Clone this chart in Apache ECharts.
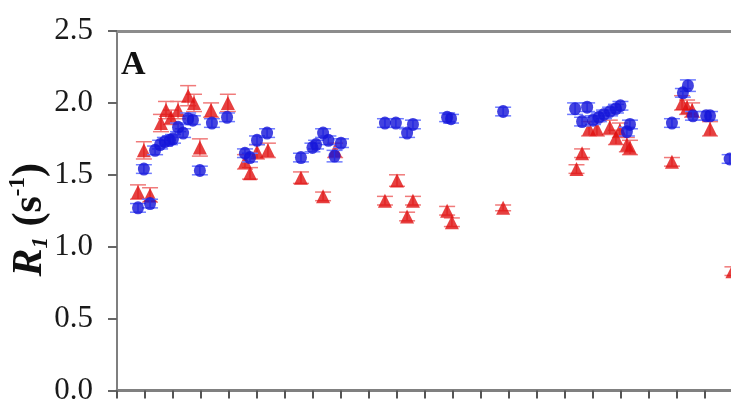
<!DOCTYPE html>
<html>
<head>
<meta charset="utf-8">
<script src="https://cdn.jsdelivr.net/npm/echarts@6/dist/echarts.min.js"></script>
<style>
  html, body { margin: 0; padding: 0; background: #ffffff; overflow: hidden; width: 731px; height: 402px; }
  /* the residue axis continues past the right edge of the page */
  #chart { width: 761px; height: 402px; }
</style>
</head>
<body>
<div id="chart"></div>
<script>
// Residue positions and longitudinal relaxation rates R1 (s^-1), two datasets.
const redResidue = [7.5, 11.8, 9.6, 15.7, 17.5, 19.3, 21.8, 25.4, 27.5, 29.6, 33.6, 39.6,
  45.7, 47.5, 50, 53.9, 65.7, 73.6, 77.9, 95.7, 100, 103.6, 105.7, 117.9, 119.6, 137.9,
  164.1, 166.1, 168.6, 171.4, 176, 178.2, 179.6, 182.1, 183.2, 198.2, 201.8, 203.6, 205.4, 211.8, 219.8];
const redR1 = [1.38, 1.36, 1.67, 1.86, 1.95, 1.90, 1.95, 2.05, 2.00, 1.69, 1.95, 2.00,
  1.59, 1.51, 1.66, 1.67, 1.48, 1.35, 1.67, 1.32, 1.46, 1.21, 1.32, 1.25, 1.17, 1.27,
  1.54, 1.65, 1.82, 1.82, 1.83, 1.76, 1.81, 1.71, 1.69, 1.59, 2.00, 1.97, 1.95, 1.82, 0.83];
const redErr = [0.05, 0.05, 0.06, 0.06, 0.06, 0.05, 0.06, 0.07, 0.06, 0.06, 0.05, 0.06,
  0.05, 0.04, 0.05, 0.05, 0.04, 0.03, 0.05, 0.03, 0.04, 0.03, 0.03, 0.03, 0.03, 0.02,
  0.03, 0.03, 0.05, 0.05, 0.05, 0.05, 0.05, 0.05, 0.05, 0.03, 0.05, 0.05, 0.05, 0.05, 0.03];

const blueResidue = [7.5, 11.8, 9.6, 13.6, 15.4, 17.1, 18.9, 20, 21.8, 23.6, 25.4, 27.1, 29.6, 33.9, 39.3,
  45.7, 47.5, 50, 53.6, 65.7, 69.8, 71.1, 73.6, 75.5, 77.7, 80, 95.7, 99.6, 103.6, 105.7,
  117.9, 119.3, 137.9, 163.6, 167.9, 166.1, 170, 172.1, 173.9, 176.1, 178.2, 179.8, 183.2, 182.1,
  198.2, 202.1, 203.9, 205.7, 210.4, 211.8, 218.8];
const blueR1 = [1.27, 1.30, 1.54, 1.67, 1.71, 1.73, 1.74, 1.75, 1.83, 1.79, 1.89, 1.88, 1.53, 1.86, 1.90,
  1.65, 1.62, 1.74, 1.79, 1.62, 1.69, 1.71, 1.79, 1.74, 1.63, 1.72, 1.86, 1.86, 1.79, 1.85,
  1.90, 1.89, 1.94, 1.96, 1.97, 1.87, 1.88, 1.90, 1.92, 1.94, 1.96, 1.98, 1.85, 1.80,
  1.86, 2.07, 2.12, 1.91, 1.91, 1.91, 1.61];
const blueErr = [0.03, 0.03, 0.03, 0.03, 0.03, 0.03, 0.03, 0.03, 0.03, 0.03, 0.04, 0.03, 0.03, 0.03, 0.03,
  0.03, 0.03, 0.03, 0.03, 0.03, 0.03, 0.03, 0.03, 0.03, 0.04, 0.03, 0.03, 0.03, 0.03, 0.03,
  0.03, 0.03, 0.03, 0.04, 0.03, 0.03, 0.03, 0.03, 0.03, 0.03, 0.03, 0.03, 0.03, 0.03,
  0.03, 0.03, 0.04, 0.03, 0.03, 0.03, 0.03];

const yTickLabels = ['0.0', '0.5', '1.0', '1.5', '2.0', '2.5'];
const panelLabel = 'A';

const points = (xs, ys) => xs.map((x, i) => [x, ys[i]]);
const bars = (xs, ys, es) => xs.map((x, i) => [x, ys[i] - es[i], ys[i] + es[i]]);

function errorBar(color) {
  return function (params, api) {
    const x = api.value(0);
    const lo = api.coord([x, api.value(1)]);
    const hi = api.coord([x, api.value(2)]);
    const hw = 8;
    const style = { stroke: color, lineWidth: 1.5 };
    return {
      type: 'group',
      children: [
        { type: 'line', shape: { x1: lo[0], y1: lo[1], x2: hi[0], y2: hi[1] }, style },
        { type: 'line', shape: { x1: lo[0] - hw, y1: lo[1], x2: lo[0] + hw, y2: lo[1] }, style },
        { type: 'line', shape: { x1: hi[0] - hw, y1: hi[1], x2: hi[0] + hw, y2: hi[1] }, style }
      ]
    };
  };
}

const serif = 'Liberation Serif';
const chart = echarts.init(document.getElementById('chart'), null, { renderer: 'canvas' });

chart.setOption({
  animation: false,
  backgroundColor: '#ffffff',
  grid: { left: 117, top: 31, bottom: 11.5, right: 0, containLabel: false, outerBoundsMode: 'none' },
  xAxis: [
    {
      type: 'value', min: 0, max: 230, interval: 10, position: 'bottom',
      axisLine: { show: true, lineStyle: { color: '#808080', width: 3 } },
      axisTick: { show: true, inside: false, length: 8, lineStyle: { color: '#555555', width: 2 } },
      axisLabel: { show: false },
      splitLine: { show: false }
    },
    {
      type: 'value', min: 0, max: 230, position: 'top',
      axisLine: { show: true, lineStyle: { color: '#8c8c8c', width: 3 } },
      axisTick: { show: false },
      axisLabel: { show: false },
      splitLine: { show: false }
    }
  ],
  yAxis: {
    type: 'value', min: 0, max: 2.5, interval: 0.5,
    axisLine: { show: true, lineStyle: { color: '#7f7f7f', width: 2 } },
    axisTick: { show: true, inside: false, length: 9, lineStyle: { color: '#666666', width: 2 } },
    axisLabel: {
      formatter: (v) => yTickLabels[Math.round(v / 0.5)],
      fontFamily: serif, fontSize: 31, color: '#1a1a1a', margin: 24
    },
    splitLine: { show: false },
    name: '{r|R}{sub|1}{b| (s}{sup|-1}{b|)}{g|}',
    nameLocation: 'middle',
    nameRotate: 90,
    nameGap: 64,
    nameMoveOverlap: false,
    nameTextStyle: {
      fontFamily: serif,
      rich: {
        r: { fontFamily: serif, fontSize: 42, fontWeight: 'bold', fontStyle: 'italic', color: '#111', lineHeight: 46, verticalAlign: 'middle' },
        sub: { fontFamily: serif, fontSize: 23, fontWeight: 'bold', fontStyle: 'italic', color: '#111', lineHeight: 23, verticalAlign: 'bottom' },
        b: { fontFamily: serif, fontSize: 42, fontWeight: 'bold', color: '#111', lineHeight: 46, verticalAlign: 'middle' },
        sup: { fontFamily: serif, fontSize: 23, fontWeight: 'bold', color: '#111', lineHeight: 23, verticalAlign: 'top' },
        g: { width: 18, lineHeight: 46 }
      }
    }
  },
  graphic: [
    {
      type: 'text', left: 121, top: 48,
      style: { text: panelLabel, font: 'bold 34px "Liberation Serif"', fill: '#111111' }
    }
  ],
  series: [
    {
      type: 'custom', name: 'redErr', renderItem: errorBar('#f07a7a'),
      encode: { x: 0, y: [1, 2] }, data: bars(redResidue, redR1, redErr), z: 2
    },
    {
      type: 'scatter', name: 'red', symbol: 'triangle', symbolSize: 14,
      itemStyle: { color: '#e01010' }, data: points(redResidue, redR1), z: 3
    },
    {
      type: 'custom', name: 'blueErr', renderItem: errorBar('#6f7cff'),
      encode: { x: 0, y: [1, 2] }, data: bars(blueResidue, blueR1, blueErr), z: 4
    },
    {
      type: 'scatter', name: 'blue', symbol: 'circle', symbolSize: [12, 13],
      itemStyle: { color: '#1414d8' }, data: points(blueResidue, blueR1), z: 5
    }
  ]
});
</script>
</body>
</html>
